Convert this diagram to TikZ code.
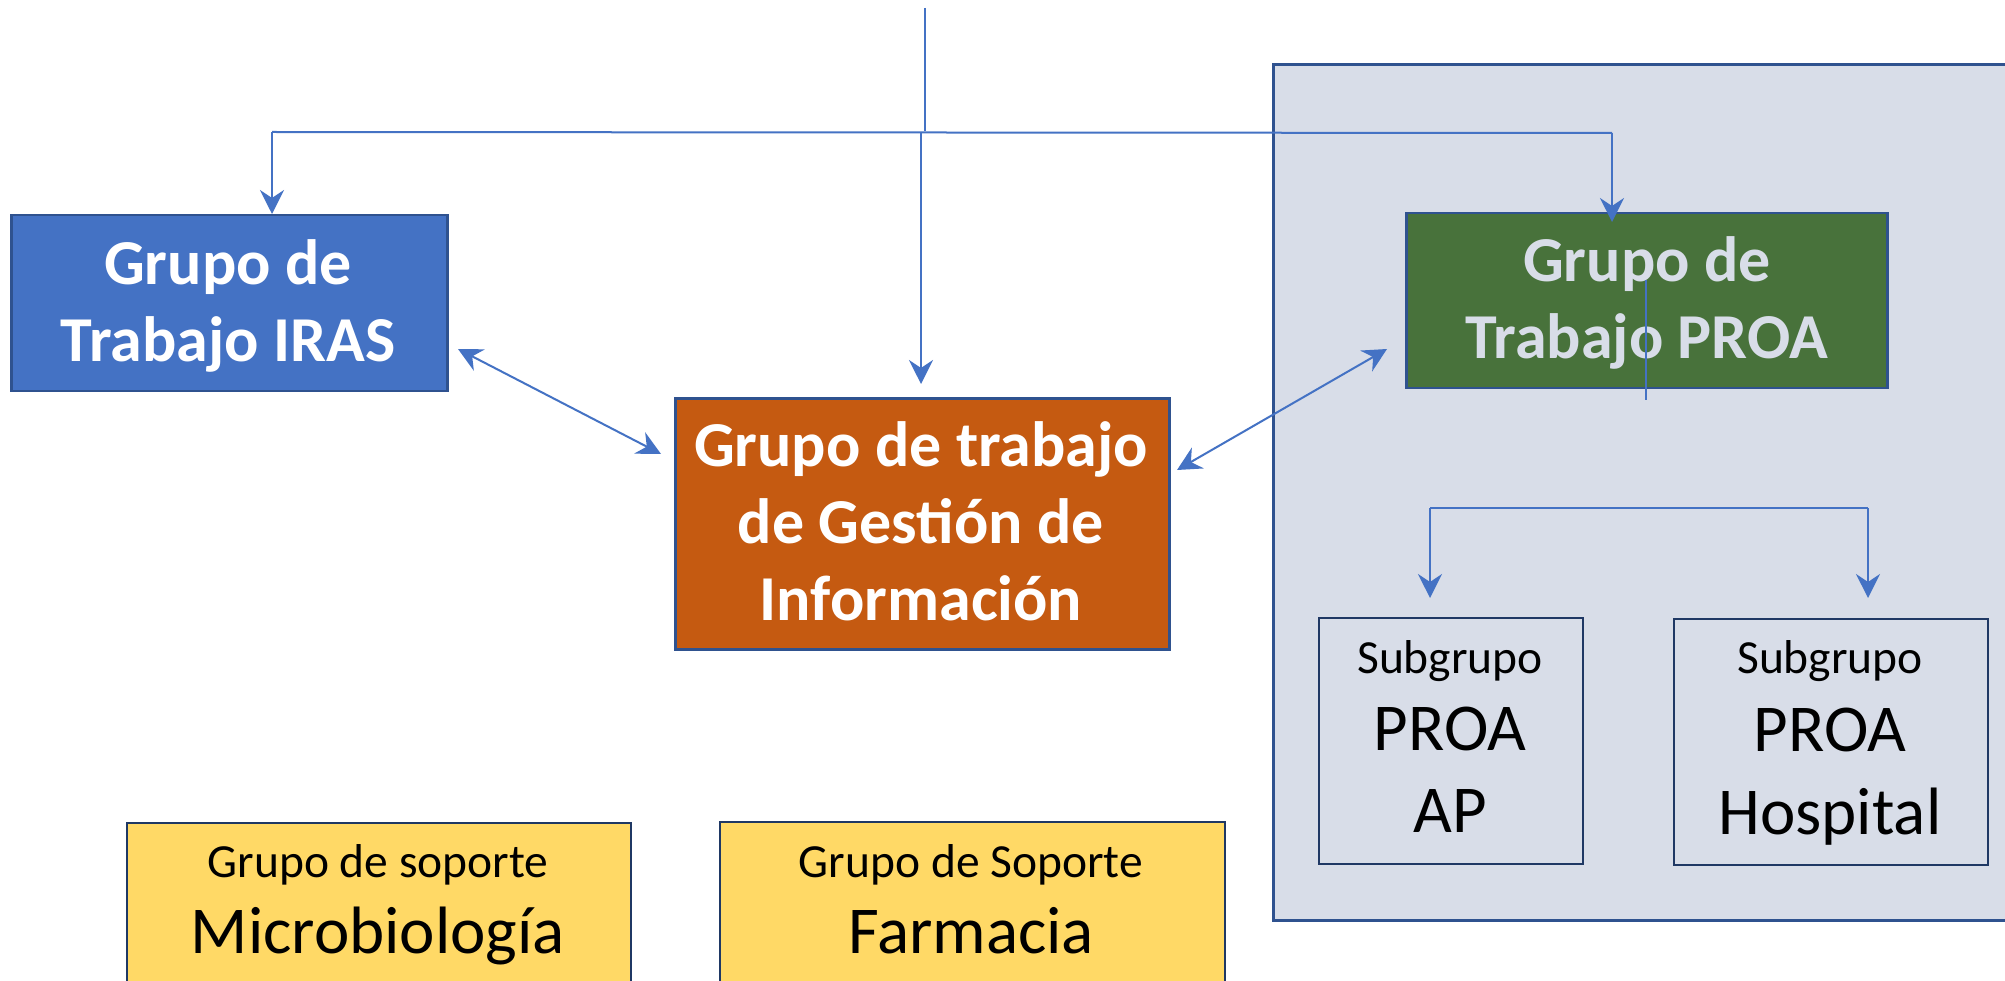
\documentclass[tikz,border=0pt]{standalone}
\usepackage{fontspec}
\setmainfont{Carlito}
\usetikzlibrary{arrows.meta}
\definecolor{cblue}{HTML}{4472C4}
\definecolor{cblueborder}{HTML}{2F528F}
\definecolor{corange}{HTML}{C55A11}
\definecolor{cgreen}{RGB}{72,114,59}
\definecolor{cpanel}{RGB}{216,221,232}
\definecolor{cyellow}{HTML}{FFD966}
\definecolor{cnavy}{HTML}{1F3864}
\definecolor{cline}{HTML}{4472C4}
\tikzset{
  box/.style={rectangle, draw=cblueborder, line width=2.5pt, inner sep=0pt, anchor=north west},
  subbox/.style={rectangle, draw=cnavy, line width=2pt, inner sep=0pt, anchor=north west},
  txt/.style={anchor=base, inner sep=0pt},
  bigbold/.style={font=\fontsize{64}{77}\selectfont\bfseries},
  small/.style={font=\fontsize{47.5}{57}\selectfont},
  large/.style={font=\fontsize{67}{80}\selectfont},
  conn/.style={draw=cline, line width=2pt},
  thinconn/.style={draw=cline, line width=1.4pt},
  arr/.style={-{Stealth[length=24pt,width=24pt,inset=8pt]}},
  darr/.style={{Stealth[length=24pt,width=24pt,inset=8pt]}-{Stealth[length=24pt,width=24pt,inset=8pt]}}
}
\begin{document}
\begin{tikzpicture}[x=1pt,y=-1pt]
\useasboundingbox (0,0) rectangle (2005,981);
\clip (0,0) rectangle (2005,981);
\fill[white] (0,0) rectangle (2005,981);

% panel
\node[box, fill=cpanel, line width=3pt, minimum width=780pt, minimum height=856pt] (panel) at (1272,63) {};

% boxes
\node[box, fill=cblue, minimum width=436pt, minimum height=176pt] (iras) at (10,214) {};
\node[txt, bigbold, text=white] (iras1) at (228,285) {Grupo de};
\node[txt, bigbold, text=white] (iras2) at (228,362) {Trabajo IRAS};

\node[box, fill=corange, minimum width=494pt, minimum height=251pt] (info) at (674,397) {};
\node[txt, bigbold, text=white] (info1) at (921,466) {Grupo de trabajo};
\node[txt, bigbold, text=white] (info2) at (921,543) {de Gestión de};
\node[txt, bigbold, text=white] (info3) at (921,620) {Información};

\node[box, fill=cgreen, minimum width=481pt, minimum height=175pt] (proa) at (1405,212) {};
\node[txt, bigbold, text=cpanel] (proa1) at (1647,282) {Grupo de};
\node[txt, bigbold, text=cpanel] (proa2) at (1647,359) {Trabajo PROA};

\node[subbox, minimum width=264pt, minimum height=246pt] (ap) at (1318,617) {};
\node[txt, small] (ap1) at (1450,673) {Subgrupo};
\node[txt, large] (ap2) at (1450,750) {PROA};
\node[txt, large] (ap3) at (1450,832) {AP};

\node[subbox, minimum width=314pt, minimum height=246pt] (hosp) at (1673,618) {};
\node[txt, small] (hosp1) at (1830,673) {Subgrupo};
\node[txt, large] (hosp2) at (1830,751) {PROA};
\node[txt, large] (hosp3) at (1830,834) {Hospital};

\node[subbox, fill=cyellow, minimum width=504pt, minimum height=220pt] (micro) at (126,822) {};
\node[txt, small] (micro1) at (378,877) {Grupo de soporte};
\node[txt, large] (micro2) at (378,953) {Microbiología};

\node[subbox, fill=cyellow, minimum width=505pt, minimum height=220pt] (farm) at (719,821) {};
\node[txt, small] (farm1) at (971,877) {Grupo de Soporte};
\node[txt, large] (farm2) at (971,953) {Farmacia};

% connectors
\coordinate (top) at (925,8);
\coordinate (topj) at (925,131);
\coordinate (busL) at (272,132);
\coordinate (busM) at (921,133);
\coordinate (busR) at (1612,133);
\coordinate (tipM) at (921,384);
\coordinate (tipR) at (1612,222);
\draw[thinconn] (top) -- (topj);
\draw[conn] (busL) -- (busR);
\draw[conn, arr] (busL) -- (busL |- iras.north);
\draw[conn, arr] (busM) -- (tipM);
\draw[conn, arr] (busR) -- (tipR);

\coordinate (a1) at (458,349);
\coordinate (a2) at (661,454);
\coordinate (b1) at (1177,470);
\coordinate (b2) at (1387,349);
\draw[conn, darr] (a1) -- (a2);
\draw[conn, darr] (b1) -- (b2);

\coordinate (subL) at (1430,508);
\coordinate (subR) at (1868,508);
\coordinate (subLt) at (1430,598);
\coordinate (subRt) at (1868,598);
\draw[conn] (subL) -- (subR);
\draw[conn, arr] (subL) -- (subLt);
\draw[conn, arr] (subR) -- (subRt);

\coordinate (s1) at (1646,280);
\coordinate (s2) at (1646,400);
\draw[thinconn] (s1) -- (s2);
\end{tikzpicture}
\end{document}
